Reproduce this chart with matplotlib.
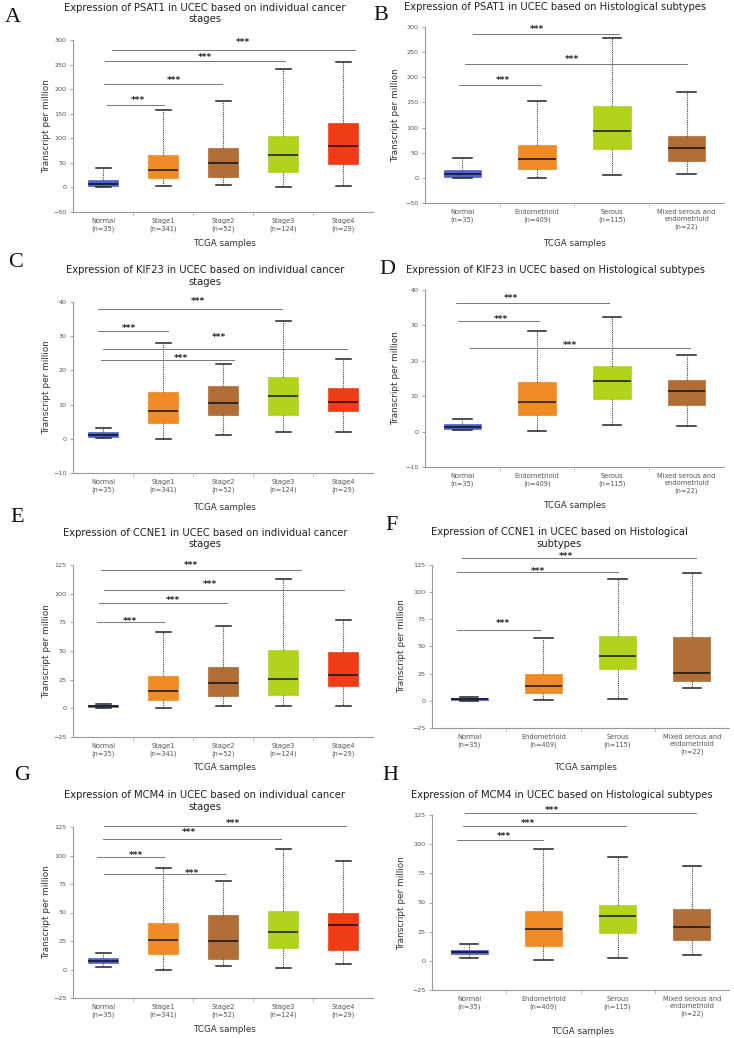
import matplotlib
matplotlib.use("Agg")
import matplotlib.pyplot as plt

# ---- data ----
stage_labels = ["Normal\n(n=35)", "Stage1\n(n=341)", "Stage2\n(n=52)",
                "Stage3\n(n=124)", "Stage4\n(n=29)"]
subtype_labels = ["Normal\n(n=35)", "Endometrioid\n(n=409)", "Serous\n(n=115)",
                  "Mixed serous and\nendometrioid\n(n=22)"]

# five-number summaries: whisker low, q1, median, q3, whisker high
psat1_stage = [[0, 2, 7, 16, 40], [2, 19, 36, 66, 157], [4, 22, 49, 81, 175],
               [0, 32, 65, 104, 241], [3, 48, 84, 131, 256]]
psat1_subtype = [[0, 2, 7, 16, 40], [0, 18, 37, 66, 152], [5, 57, 93, 142, 278],
                 [8, 33, 59, 84, 170]]
kif23_stage = [[0.3, 0.6, 1.2, 1.9, 3.2], [0, 4.6, 8.2, 13.8, 28.0], [1.0, 7.1, 10.5, 15.4, 21.9],
               [1.9, 7.1, 12.4, 18.1, 34.5], [1.9, 8.2, 10.8, 14.9, 23.4]]
kif23_subtype = [[0.5, 0.8, 1.4, 2.2, 3.5], [0.2, 4.6, 8.4, 13.9, 28.4], [1.9, 9.3, 14.2, 18.5, 32.4],
                 [1.7, 7.5, 11.5, 14.7, 21.7]]
ccne1_stage = [[0.3, 1.0, 1.7, 2.5, 4.1], [0.6, 7.6, 15.5, 28.0, 66.7], [2.4, 10.8, 22.5, 35.9, 72.0],
               [1.8, 11.7, 26.0, 51.3, 112.8], [1.8, 19.9, 29.2, 49.0, 76.6]]
ccne1_subtype = [[0.2, 0.8, 1.5, 2.3, 3.5], [0.5, 6.8, 13.3, 24.9, 57.7], [1.7, 29.5, 41.7, 59.8, 112.4],
                 [11.5, 18.5, 25.8, 58.3, 117.3]]
mcm4_stage = [[2.5, 6.0, 7.5, 10.0, 14.5], [0, 13.7, 26.0, 41.0, 88.6], [3.5, 9.3, 25.2, 48.1, 77.2],
              [1.5, 19.0, 33.1, 51.0, 106.1], [5.2, 17.4, 38.6, 49.8, 95.0]]
mcm4_subtype = [[2.5, 6.1, 7.5, 9.5, 14.5], [0.9, 13.1, 27.4, 42.9, 95.6], [2.3, 24.1, 38.3, 48.1, 88.7],
                [4.6, 17.9, 29.1, 44.4, 81.0]]

# significance bars: x start, x end, line level, stars x, stars level
psat1_stage_sig = [(0.07, 1.02, 168, 0.59, 184), (0.02, 1.98, 210, 1.18, 223),
                   (0.04, 3.03, 257, 1.70, 271), (0.15, 4.20, 280, 2.33, 302)]
psat1_subtype_sig = [(-0.05, 1.05, 184, 0.54, 199), (0.04, 3.01, 227, 1.46, 242),
                     (0.14, 2.09, 287, 1.00, 302)]
kif23_stage_sig = [(-0.08, 1.08, 31.6, 0.44, 33.2), (-0.03, 2.18, 23.1, 1.30, 24.5),
                   (0.00, 4.07, 26.3, 1.94, 30.4), (-0.08, 2.99, 37.95, 1.58, 40.9)]
kif23_subtype_sig = [(-0.06, 1.03, 31.2, 0.51, 32.4), (-0.08, 1.96, 36.2, 0.65, 38.6),
                     (0.10, 3.04, 23.5, 1.44, 25.2)]
ccne1_stage_sig = [(-0.10, 1.02, 74.9, 0.45, 78.4), (-0.06, 2.06, 91.5, 1.16, 96.7),
                   (0.02, 4.01, 102.9, 1.79, 111.0), (-0.04, 3.30, 120.3, 1.47, 127.0)]
ccne1_subtype_sig = [(-0.16, 0.96, 65.0, 0.45, 73.6), (-0.16, 2.00, 118.3, 0.92, 121.6),
                     (-0.09, 3.05, 131.1, 1.30, 135.7)]
mcm4_stage_sig = [(-0.10, 1.02, 98.3, 0.55, 103.0), (0.02, 2.03, 83.5, 1.49, 87.3),
                  (0.00, 2.96, 114.8, 1.44, 122.7), (0.02, 4.05, 126.2, 2.17, 130.5)]
mcm4_subtype_sig = [(-0.16, 0.99, 103.7, 0.47, 108.8), (-0.08, 2.11, 115.3, 0.79, 120.0),
                    (-0.06, 3.05, 126.4, 1.12, 131.5)]

stage_colors = ["#4c5fd5", "#f08a24", "#b06d35", "#b0d41c", "#f03c14"]
subtype_colors = ["#4c5fd5", "#f08a24", "#b0d41c", "#b06d35"]

W, H = 734, 1038
fig = plt.figure(figsize=(W / 100, H / 100), dpi=100)


def fx(x):
    return x / W


def fy(y):
    return 1 - y / H


def panel(box, stats, labels, colors, ylim, yticks, sig):
    l, t, r, b = box
    ax = fig.add_axes([fx(l), fy(b), (r - l) / W, (b - t) / H])
    bxstats = []
    for s in stats:
        bxstats.append(dict(whislo=s[0], q1=s[1], med=s[2], q3=s[3], whishi=s[4], fliers=[]))
    pos = list(range(len(stats)))
    res = ax.bxp(bxstats, positions=pos, widths=0.5, capwidths=0.25, patch_artist=True,
                 showfliers=False,
                 whiskerprops=dict(color="#444444", linestyle=(0, (1, 1)), linewidth=0.8),
                 capprops=dict(color="#222222", linewidth=1.1),
                 medianprops=dict(color="#111111", linewidth=1.1))
    for patch, c in zip(res["boxes"], colors):
        patch.set_facecolor(c)
        patch.set_edgecolor(c)
        patch.set_linewidth(0.5)
    for x0, x1, yl, xs, ys in sig:
        ax.plot([x0, x1], [yl, yl], color="#777777", lw=0.7, clip_on=False)
        ax.annotate("***", xy=(xs, ys), xytext=(0, -4), textcoords="offset points",
                    ha="center", va="baseline", fontsize=6.5, fontweight="bold",
                    color="#222222", annotation_clip=False)
    ax.set_xlim(-0.5, len(stats) - 0.5)
    ax.set_ylim(*ylim)
    ax.set_yticks(yticks)
    ax.set_xticks(pos)
    ax.set_xticklabels(labels, fontsize=4.8, color="#555555", linespacing=1.3)
    ax.set_xticks([p + 0.5 for p in pos[:-1]], minor=True)
    ax.tick_params(axis="x", which="major", length=0, pad=4)
    ax.tick_params(axis="x", which="minor", length=3, color="#bbbbbb", width=0.6)
    ax.tick_params(axis="y", length=2.5, color="#999999", width=0.6,
                   labelsize=4.6, labelcolor="#555555", pad=2)
    for sp in ["top", "right"]:
        ax.spines[sp].set_visible(False)
    for sp in ["left", "bottom"]:
        ax.spines[sp].set_color("#999999")
        ax.spines[sp].set_linewidth(0.8)
    ax.patch.set_alpha(0)
    return ax


def txt(x, y, s, **kw):
    fig.text(fx(x), fy(y), s, **kw)


title_kw = dict(ha="center", va="center", fontsize=7.2, color="#222222", linespacing=1.2)
xlab_kw = dict(ha="center", va="center", fontsize=6.3, color="#333333")
ylab_kw = dict(ha="center", va="center", fontsize=6.4, color="#333333", rotation=90)
let_kw = dict(ha="center", va="center", fontsize=16, family="Liberation Serif", color="#111111")

# A
panel((73, 40, 373, 212), psat1_stage, stage_labels, stage_colors,
      (-50, 300), range(-50, 301, 50), psat1_stage_sig)
txt(205, 13.5, "Expression of PSAT1 in UCEC based on individual cancer\nstages", **title_kw)
txt(224, 243, "TCGA samples", **xlab_kw)
txt(47, 126, "Transcript per million", **ylab_kw)
txt(13, 17, "A", **let_kw)

# B
panel((425, 27, 724, 203), psat1_subtype, subtype_labels, subtype_colors,
      (-50, 300), range(-50, 301, 50), psat1_subtype_sig)
txt(555, 7.5, "Expression of PSAT1 in UCEC based on Histological subtypes", **title_kw)
txt(574, 243, "TCGA samples", **xlab_kw)
txt(396, 115, "Transcript per million", **ylab_kw)
txt(381, 15, "B", **let_kw)

# C
panel((73, 302, 373, 473), kif23_stage, stage_labels, stage_colors,
      (-10, 40), range(-10, 41, 10), kif23_stage_sig)
txt(205, 276, "Expression of KIF23 in UCEC based on individual cancer\nstages", **title_kw)
txt(224, 507, "TCGA samples", **xlab_kw)
txt(47, 387, "Transcript per million", **ylab_kw)
txt(16, 262, "C", **let_kw)

# D
panel((425, 290, 724, 467), kif23_subtype, subtype_labels, subtype_colors,
      (-10, 40), range(-10, 41, 10), kif23_subtype_sig)
txt(555, 270, "Expression of KIF23 in UCEC based on Histological subtypes", **title_kw)
txt(574, 506, "TCGA samples", **xlab_kw)
txt(396, 378, "Transcript per million", **ylab_kw)
txt(387, 270, "D", **let_kw)

# E
panel((73, 565, 373, 737), ccne1_stage, stage_labels, stage_colors,
      (-25, 125), range(-25, 126, 25), ccne1_stage_sig)
txt(205, 538.5, "Expression of CCNE1 in UCEC based on individual cancer\nstages", **title_kw)
txt(224, 768, "TCGA samples", **xlab_kw)
txt(47, 651, "Transcript per million", **ylab_kw)
txt(17, 517, "E", **let_kw)

# F
panel((432, 565, 729, 728), ccne1_subtype, subtype_labels, subtype_colors,
      (-25, 125), range(-25, 126, 25), ccne1_subtype_sig)
txt(559, 538, "Expression of CCNE1 in UCEC based on Histological\nsubtypes", **title_kw)
txt(585, 768, "TCGA samples", **xlab_kw)
txt(402, 646, "Transcript per million", **ylab_kw)
txt(392, 525, "F", **let_kw)

# G
panel((73, 827, 373, 998), mcm4_stage, stage_labels, stage_colors,
      (-25, 125), range(-25, 126, 25), mcm4_stage_sig)
txt(205, 801, "Expression of MCM4 in UCEC based on individual cancer\nstages", **title_kw)
txt(224, 1030, "TCGA samples", **xlab_kw)
txt(47, 912, "Transcript per million", **ylab_kw)
txt(22, 775, "G", **let_kw)

# H
panel((432, 815, 729, 990), mcm4_subtype, subtype_labels, subtype_colors,
      (-25, 125), range(-25, 126, 25), mcm4_subtype_sig)
txt(562, 795, "Expression of MCM4 in UCEC based on Histological subtypes", **title_kw)
txt(582, 1031, "TCGA samples", **xlab_kw)
txt(402, 903, "Transcript per million", **ylab_kw)
txt(390, 775, "H", **let_kw)

fig.savefig("out.png", dpi=100)
